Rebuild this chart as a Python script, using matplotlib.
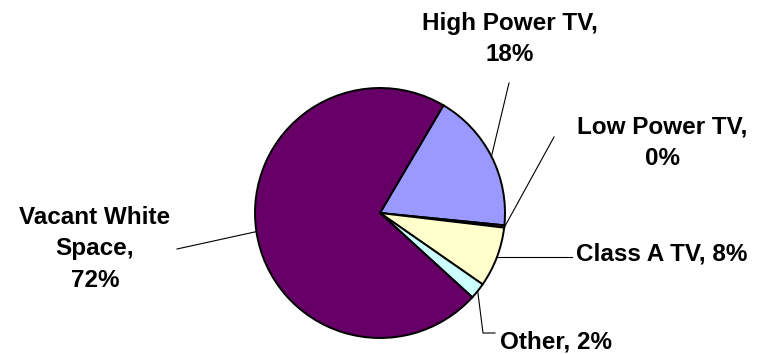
import numpy as np
import matplotlib.pyplot as plt

categories = ['High Power TV', 'Low Power TV', 'Class A TV', 'Other', 'Vacant White Space']
shares = [18.1, 0.3, 7.8, 2.1, 71.7]
colors = ['#9999FF', '#993366', '#FFFFCC', '#CCFFFF', '#660066']

W, H = 759, 354
fig = plt.figure(figsize=(W / 100, H / 100), dpi=100)
ax = fig.add_axes([0, 0, 1, 1])

cx, cy, r = 380, H - 213, 125
wedges, _ = ax.pie(shares, colors=colors, startangle=59.5, counterclock=False,
                   center=(cx, cy), radius=r,
                   wedgeprops=dict(edgecolor='black', linewidth=1.4))
ax.set_xlim(0, W)
ax.set_ylim(0, H)
ax.set_aspect('equal')
ax.axis('off')

font = dict(family='Liberation Sans', weight='bold', fontsize=17.5, color='black')


def edge_point(w):
    # point on the rim at the wedge's middle angle
    t = np.deg2rad((w.theta1 + w.theta2) / 2)
    return cx + r * np.cos(t), cy + r * np.sin(t)


def pct(v):
    return f'{round(v)}%'


# label text placed in pixel coordinates (y measured from top)
labels = [
    (f'{categories[0]},\n{pct(shares[0])}', 510, 39),
    (f'{categories[1]},\n{pct(shares[1])}', 662, 143),
    (f'{categories[2]}, {pct(shares[2])}', 662, 254),
    (f'{categories[3]}, {pct(shares[3])}', 556, 342),
    ('Vacant White\nSpace,\n' + pct(shares[4]), 95, 249),
]
for text, x, y in labels:
    ax.text(x, H - y, text, ha='center', va='center', linespacing=1.48, **font)

line = dict(color='black', linewidth=0.8)

# High Power TV
x0, y0 = edge_point(wedges[0])
ax.plot([x0, 509], [y0, H - 83], **line)

# Low Power TV: sliver, use its rim position
t = np.deg2rad(wedges[1].theta1)
ax.plot([cx + r * np.cos(t), 554], [cy + r * np.sin(t), H - 137], **line)

# Class A TV
x0, y0 = edge_point(wedges[2])
ax.plot([x0, 572], [y0, y0], **line)

# Other
x0, y0 = edge_point(wedges[3])
ax.plot([x0, 483, 495], [y0, H - 333, H - 333], **line)

# Vacant White Space
x0, y0 = edge_point(wedges[4])
ax.plot([x0, 177], [y0, H - 249], **line)

fig.savefig('out.png', dpi=100)
